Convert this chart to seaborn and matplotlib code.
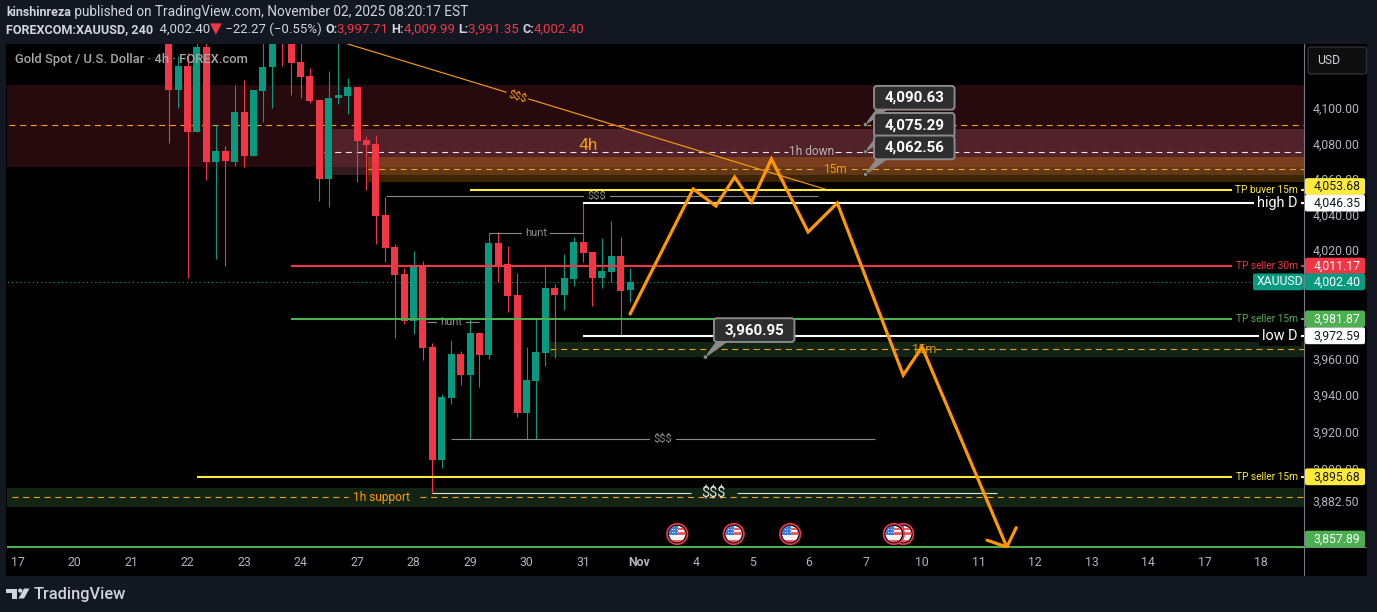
import matplotlib
matplotlib.use('Agg')
import matplotlib.pyplot as plt
import seaborn as sns
import numpy as np
import pandas as pd
from matplotlib.patches import Rectangle, FancyBboxPatch, Polygon, Circle
from matplotlib.ticker import FuncFormatter, NullLocator, NullFormatter
from matplotlib.transforms import IdentityTransform

# 4h candles, first bar sits 16 bars after the "17" tick
first_bar = 16
opens = [4141, 4110.2, 4124.2, 4086.5, 4134.9, 4069.2, 4075.7, 4069.6, 4097.5, 4072.6,
         4109.8, 4123.2, 4142.5, 4141, 4126.4, 4118.5, 4104.4, 4059.9, 4105.7, 4106.6,
         4111.8, 4081.9, 4079.7, 4039.7, 4021.8, 4006.8, 3980.7, 4011.2, 3966.4, 3904.7,
         3938.5, 3962.5, 3950.9, 3974.1, 3961.9, 4024.1, 4012.4, 3995.1, 3930.2, 3948,
         3963.1, 3999, 3995.1, 4004, 4024.6, 4019.1, 4004.6, 4007.9, 4016.8, 3997.71]
highs = [4144, 4129.9, 4131.6, 4139.5, 4138.5, 4090.2, 4078.5, 4113.1, 4115.8, 4110.2,
         4138.5, 4144, 4144, 4144, 4141.2, 4123, 4104.4, 4121.4, 4144, 4116.9,
         4111.8, 4084.1, 4084.7, 4050, 4023.5, 4010.1, 4019.6, 4014, 3968.6, 3940.7,
         3970.3, 3964.2, 3982.5, 3974.7, 4029.6, 4030.2, 4022.4, 4007.4, 3966.5, 3982.5,
         4011.8, 4001.2, 4017.9, 4027.4, 4046.35, 4019.1, 4026.9, 4036.3, 4027.4, 4009.99]
lows = [4080.3, 4100.3, 4004.8, 4086.5, 4059.3, 4015.3, 4011.4, 4067, 4066.4, 4072.6,
        4092.1, 4100, 4124.2, 4107.4, 4105.8, 4102.9, 4047.6, 4044.3, 4102.3, 4096.7,
        4058.3, 4053.7, 4023.5, 4013.5, 3971.1, 3979, 3973.4, 3959.1, 3886.9, 3900.4,
        3935.1, 3945.5, 3916, 3944.4, 3959.7, 4002.3, 3985.7, 3928, 3916.4, 3916,
        3955.8, 3960.3, 3986.8, 4000.1, 4013.5, 3989, 3999, 4002.3, 3972.59, 3991.35]
closes = [4110.2, 4124.2, 4086.5, 4134.9, 4069.2, 4075.7, 4069.8, 4097.5, 4072.6, 4110.2,
          4123.6, 4141, 4139.5, 4125.9, 4118, 4103.9, 4059.9, 4106, 4107.2, 4111.8,
          4081.3, 4079.1, 4039.1, 4021.3, 4006.2, 3980.7, 4011.2, 3965.8, 3904.7, 3939,
          3962.5, 3950.9, 3974.1, 3961.9, 4024.1, 4010.7, 3994.5, 3930.2, 3948.4, 3963.6,
          3999, 3995.1, 4004.6, 4024.6, 4018.5, 4004.6, 4008.5, 4016.8, 3997.3, 4002.4]

day_labels = ['17', '20', '21', '22', '23', '24', '27', '28', '29', '30', '31', 'Nov',
              '4', '5', '6', '7', '10', '11', '12', '13', '14', '17', '18']
price_ticks = [4100, 4080, 4060, 4040, 4020, 3960, 3940, 3920, 3900, 3882.5, 3864.5]

# forecast drawing
path_bars = [65, 71.7, 74.1, 76.1, 77.9, 80, 83.9, 87, 94, 96, 105]
path_prices = [3984.6, 4054.3, 4044.7, 4061, 4047, 4071.2, 4030.2, 4046.4, 3951, 3966.4, 3857.9]
wing_bars = [102.9, 105, 106]
wing_prices = [3861.6, 3857.9, 3868.3]
trend_bars = [34.9, 86]
trend_prices = [4136.8, 4053.7]

# zones: start bar, top, bottom
zone_starts = [-2, 32.5, 37.2, 56.5, -2]
zone_tops = [4113.4, 4088.1, 4072.3, 3969.1, 3889.6]
zone_bottoms = [4066.6, 4062.1, 4058.2, 3960.9, 3879.3]

# solid levels
level_starts = [48, 60, 29, 29, 60, 19, -2]
level_prices = [4053.68, 4046.35, 4011.17, 3981.87, 3972.59, 3895.68, 3857.89]

# grey liquidity lines, the last one is split around its label
sweep_starts = [39.1, 50, 43.4, 46, 44, 76.3]
sweep_ends = [85, 60, 49, 91, 71.5, 104]
sweep_prices = [4050.2, 4029.4, 3980, 3916, 3886.7, 3886.7]
sweep_labels = ['$$$', 'hunt', 'hunt', '$$$']

# callouts
callout_bars = [90, 90, 90, 73]
callout_prices = [4090.63, 4075.29, 4062.56, 3960.95]

event_bars = [94, 93, 82, 76, 70]

RED = '#f23645'
TEAL = '#089981'
ORANGE = '#ff9800'
YELLOW = '#ffeb3b'
GREEN = '#4caf50'
W, H = 1377, 612
BG = '#131722'
ROBOTO = ['Roboto', 'DejaVu Sans']

sns.set_theme(style='dark', rc={'lines.scale_dashes': False})
plt.rcParams['font.family'] = ROBOTO
plt.rcParams['axes.unicode_minus'] = False

fig = plt.figure(figsize=(W / 100, H / 100), dpi=100, facecolor=BG)
ax = fig.add_axes([7 / W, 1 - 548 / H, (1304 - 7) / W, (548 - 44) / H], facecolor='black')
px = IdentityTransform()


def pixel_patch(patch, z=5):
    patch.set_transform(px)
    patch.set_zorder(z)
    fig.add_artist(patch)
    return patch


def pixel_text(x, y, s, **kw):
    # x, y are display pixels, origin bottom left
    return fig.text(x, y, s, transform=px, **kw)


# black chart panel behind axes and price scale
pixel_patch(Rectangle((6, H - 576), 1361, 532, fc='black', ec='none'), z=-1)

ax.set_yscale('log')
ax.set_ylim(3857.4, 4136.6)
ax.set_xlim(-1.17, 136.56)

# zones
zone_colors = ['#260a0e', '#ff879a', ORANGE, '#122514', '#122514']
zone_alpha = [1, 0.2, 0.24, 1, 1]
for s, t, b, c, a in zip(zone_starts, zone_tops, zone_bottoms, zone_colors, zone_alpha):
    ax.fill_between([s, 140], [b, b], [t, t], color=c, alpha=a, lw=0, zorder=1)

# dashed levels under the candles, broken where a label sits
dash = (0, (4.3, 3.4))
ax.hlines(4090.63, -1, 140, color='#f7a11a', lw=0.8, ls=dash, zorder=1.5)
ax.hlines([4075.29, 4075.29], [32.5, 86.8], [81.8, 140], color='#e8e8e8', lw=0.8, ls=dash, zorder=1.5)
ax.hlines([4065.3, 4065.3], [37.2, 88.5], [84.6, 140], color='#f7a11a', lw=0.8, ls=dash, zorder=1.5)
ax.hlines(3965.1, 56.5, 140, color='#f7a11a', lw=0.8, ls=dash, zorder=1.5)
ax.hlines([3884.6, 3884.6], [-0.6, 42.7], [35, 140], color='#f7a11a', lw=0.8, ls=dash, zorder=1.5)
ax.hlines(4002.4, -2, 140, color=TEAL, lw=0.8, ls=(0, (0.8, 2.2)), zorder=1.5)

# candles
df = pd.DataFrame({'open': opens, 'high': highs, 'low': lows, 'close': closes})
df['bar'] = first_bar + np.arange(len(df))
df['color'] = np.where(df['close'] >= df['open'], TEAL, RED)
ax.vlines(df['bar'], df['low'], df['high'], colors=df['color'], lw=0.8, zorder=2)
ax.bar(df['bar'], (df['close'] - df['open']).abs(), bottom=df[['open', 'close']].min(axis=1),
       width=0.74, color=df['color'], lw=0, zorder=2.1)

# thin trend line
sns.lineplot(x=trend_bars, y=trend_prices, sort=False, estimator=None, color='#f59b0e',
             linewidth=0.85, ax=ax, zorder=3, legend=False)
# grey sweeps
sweep_colors = ['#8a8a8a', '#8a8a8a', '#8a8a8a', '#8a8a8a', '#e0e0e0', '#e0e0e0']
ax.hlines(sweep_prices, sweep_starts, sweep_ends, colors=sweep_colors, lw=0.8, zorder=3)
label_bars = [61.5, 55, 46, 68.5]
for xb, p, s in zip(label_bars, sweep_prices, sweep_labels):
    ax.text(xb, p, s, color='#8f8f8f', fontsize=8, ha='center', va='center', zorder=3.2,
            bbox=dict(fc='black', ec='none', pad=2.5))
ax.text(73.9, 3886.7, '$$$', color='#e0e0e0', fontsize=10.5, ha='center', va='center', zorder=3.2)

# solid levels
level_colors = [YELLOW, 'white', RED, GREEN, 'white', YELLOW, GREEN]
ax.hlines(level_prices, level_starts, 140, colors=level_colors, lw=1.5, zorder=3.5)

right_bar = 135.9
tp_labels = [(4053.68, 'TP buyer 15m', YELLOW), (4011.17, 'TP seller 30m', RED),
             (3981.87, 'TP seller 15m', GREEN), (3895.68, 'TP seller 15m', YELLOW)]
for p, s, c in tp_labels:
    ax.text(right_bar, p, s, color=c, fontsize=7.3, ha='right', va='center', zorder=3.6,
            bbox=dict(fc='black', ec='none', pad=2.5))
for p, s in [(4046.35, 'high D'), (3972.59, 'low D')]:
    ax.text(right_bar, p, s, color='white', fontsize=10.4, ha='right', va='center', zorder=3.6,
            bbox=dict(fc='black', ec='none', pad=2.5))

# zone labels
ax.text(84.3, 4075.29, '1h down', color='#b8b4b4', fontsize=8.6, ha='center', va='center', zorder=3.3)
ax.text(86.7, 4065.3, '15m', color=ORANGE, fontsize=8.6, ha='center', va='center', zorder=3.3)
ax.text(96.3, 3965.1, '15m', color='#d98a10', fontsize=9.2, ha='center', va='center', zorder=3.3)
ax.text(38.6, 3884.6, '1h support', color=ORANGE, fontsize=8.6, ha='center', va='center', zorder=3.3)
ax.text(60.6, 4079, '4h', color='#f59b0e', fontsize=12.5, ha='center', va='center', zorder=3.3)
ax.text(53, 4106.5, '$$$', color='#f59b0e', fontsize=8, ha='center', va='center', zorder=3.3,
        rotation=-17, bbox=dict(fc='#260a0e', ec='none', pad=1.5))

# forecast path
sns.lineplot(x=path_bars, y=path_prices, sort=False, estimator=None, color=ORANGE,
             linewidth=2.3, ax=ax, zorder=4, legend=False)
sns.lineplot(x=wing_bars, y=wing_prices, sort=False, estimator=None, color=ORANGE,
             linewidth=2.3, ax=ax, zorder=4, legend=False)
for line in ax.get_lines():
    line.set_solid_joinstyle('miter')

ax.text(0.0062, 0.9685, 'Gold Spot / U.S. Dollar · 4h · FOREX.com', transform=ax.transAxes,
        color='#a8a8a8', fontsize=9.4, fontweight='medium', ha='left', va='center', zorder=6)

# axes and ticks
ax.set_xlabel('')
ax.set_ylabel('')
ax.set_xticks(np.arange(len(day_labels)) * 6)
ax.set_xticklabels(day_labels)
for lab in ax.get_xticklabels():
    if lab.get_text() == 'Nov':
        lab.set_fontweight('bold')
        lab.set_color('#d1d4dc')
ax.yaxis.set_major_locator(plt.FixedLocator(price_ticks))
ax.yaxis.set_minor_locator(NullLocator())
ax.yaxis.set_minor_formatter(NullFormatter())
ax.yaxis.set_major_formatter(FuncFormatter(lambda v, pos: f'{v:,.2f}'))
ax.yaxis.tick_right()
ax.tick_params(axis='x', length=0, pad=6, labelsize=8.8, labelcolor='#b2b5be')
ax.tick_params(axis='y', length=0, pad=6.3, labelsize=8.8, labelcolor='#b2b5be')
ax.grid(False)
for side in ['top', 'left', 'bottom']:
    ax.spines[side].set_visible(False)
ax.spines['right'].set_color('#787b86')
ax.spines['right'].set_linewidth(0.8)

# scale borders
pixel_patch(Rectangle((1304, H - 576), 1, 28, fc='#787b86', ec='none'), z=1)
pixel_patch(Rectangle((1304, H - 548), 63, 1, fc='#787b86', ec='none'), z=1)

# price tags
tag_prices = [4053.68, 4046.35, 4011.17, 4002.4, 3981.87, 3972.59, 3895.68, 3857.89]
tag_shift = [3.5, 0, 0, 0, 0, 0, 0, 8]
tag_bg = [YELLOW, 'white', RED, TEAL, GREEN, 'white', YELLOW, GREEN]
tag_fg = ['#131722', '#131722', 'white', 'white', 'white', '#131722', '#131722', 'white']
x_scale = ax.transAxes.transform((1, 0))[0]
for p, sh, bg, fg in zip(tag_prices, tag_shift, tag_bg, tag_fg):
    yp = ax.transData.transform((0, p))[1] + sh
    pixel_patch(FancyBboxPatch((x_scale + 1, yp - 8.4), 60, 16.8,
                               boxstyle='round,pad=0,rounding_size=2', fc=bg, ec='none'))
    pixel_text(x_scale + 9.5, yp, f'{p:,.2f}', color=fg, fontsize=8.8, ha='left', va='center',
               zorder=6)
yp = ax.transData.transform((0, 4002.4))[1]
pixel_patch(FancyBboxPatch((x_scale - 51, yp - 8.4), 51, 16.8,
                           boxstyle='round,pad=0,rounding_size=2', fc=TEAL, ec='none'))
pixel_text(x_scale - 47, yp, 'XAUUSD', color='white', fontsize=8.8, ha='left', va='center', zorder=6)

# currency button
pixel_patch(FancyBboxPatch((1308, H - 74), 58.5, 27, boxstyle='round,pad=0,rounding_size=3',
                           fc='#0e0e0e', ec='#2e2e2e', lw=1))
pixel_text(1317, H - 60.5, 'USD', color='#d1d4dc', fontsize=8.8, ha='left', va='center', zorder=6)

# callouts, later ones on top
for n, (b, p) in enumerate(zip(callout_bars, callout_prices)):
    cx, cy = ax.transData.transform((b, p))
    z = 7 + n
    pixel_patch(Polygon([(cx, cy), (cx + 11, cy + 15), (cx + 21, cy + 15)], closed=True,
                        fc='#8a8a8a', ec='#8a8a8a', lw=0.8), z=z)
    pixel_patch(Circle((cx, cy), 2.2, fc='#8a8a8a', ec='#222222', lw=0.6), z=z)
    pixel_patch(FancyBboxPatch((cx + 8.5, cy + 15), 80.5, 23.7,
                               boxstyle='round,pad=0,rounding_size=3', fc='#2e2e2e',
                               ec='#8a8a8a', lw=1.4), z=z)
    pixel_text(cx + 48.7, cy + 26.6, f'{p:,.2f}', color='white', fontsize=10.9, fontweight='bold',
               ha='center', va='center', zorder=z)


def flag(cx, cy, z):
    pixel_patch(Circle((cx, cy), 10.2, fc='black', ec='#e8364a', lw=1.3), z=z)
    disc = pixel_patch(Circle((cx, cy), 8.2, fc='#f5f5f5', ec='none'), z=z)
    parts = [Rectangle((cx - 9, cy - 9), 18, 3.3, fc='#ef5a5a', ec='none'),
             Rectangle((cx, cy + 3.8), 9, 2.4, fc='#ef5a5a', ec='none'),
             Rectangle((cx, cy - 0.6), 9, 2.4, fc='#ef5a5a', ec='none'),
             Rectangle((cx - 9, cy - 0.8), 9.5, 10, fc='#3a7de0', ec='none')]
    for part in parts:
        pixel_patch(part, z=z)
        part.set_clip_path(disc)
    for dx in [-5.5, -3, -0.5]:
        for dy in [1.5, 4.2]:
            pixel_patch(Rectangle((cx + dx, cy + dy), 0.9, 0.9, fc='#cfe0fa', ec='none'), z=z)


y_event = H - 534
for i, b in enumerate(event_bars):
    flag(ax.transData.transform((b, 4000))[0], y_event, 5.1 + i * 0.1)

# header
renderer = fig.canvas.get_renderer()


def run_text(x, y, parts):
    for s, c, w, fs in parts:
        pixel_text(x, H - y, s, color=c, fontsize=fs, fontweight=w, ha='left', va='center',
                   family=ROBOTO, zorder=6)
        probe = pixel_text(0, 0, s + '.', fontsize=fs, fontweight=w, family=ROBOTO)
        dot = pixel_text(0, 0, '.', fontsize=fs, fontweight=w, family=ROBOTO)
        x += probe.get_window_extent(renderer).width - dot.get_window_extent(renderer).width
        probe.remove()
        dot.remove()


LABEL = '#d1d4dc'
run_text(6, 12, [('kinshinreza', LABEL, 'bold', 9.0),
                 (' published on TradingView.com, November 02, 2025 08:20:17 EST', LABEL, 'normal', 9.8)])
run_text(6, 29.5, [('FOREXCOM:XAUUSD, 240', LABEL, 'bold', 9.1), ('  4,002.40', LABEL, 'normal', 9.5),
                   ('▼', RED, 'normal', 11), (' −22.27 (−0.55%) ', LABEL, 'normal', 9.5),
                   ('O:', LABEL, 'bold', 9.1), ('3,997.71 ', RED, 'normal', 9.5),
                   ('H:', LABEL, 'bold', 9.1), ('4,009.99 ', RED, 'normal', 9.5),
                   ('L:', LABEL, 'bold', 9.1), ('3,991.35 ', RED, 'normal', 9.5),
                   ('C:', LABEL, 'bold', 9.1), ('4,002.40', RED, 'normal', 9.5)])

# logo, screen pixels measured from the top
logo = [[(6, 588.5), (17, 588.5), (17, 598.5), (11.5, 598.5), (11.5, 592.5), (6, 592.5)],
        [(24, 588.5), (29.5, 588.5), (24, 598.5), (18.5, 598.5)]]
for pts in logo:
    pixel_patch(Polygon([(x, H - y) for x, y in pts], closed=True, fc='#d1d4dc', ec='none'))
pixel_patch(Circle((20.2, H - 590.6), 2.1, fc='#d1d4dc', ec='none'))
pixel_text(33.5, H - 594.3, 'TradingView', color='#d1d4dc', fontsize=11.8, fontweight='medium',
           ha='left', va='center', zorder=6)

fig.savefig('out.png', dpi=100, facecolor=BG)
